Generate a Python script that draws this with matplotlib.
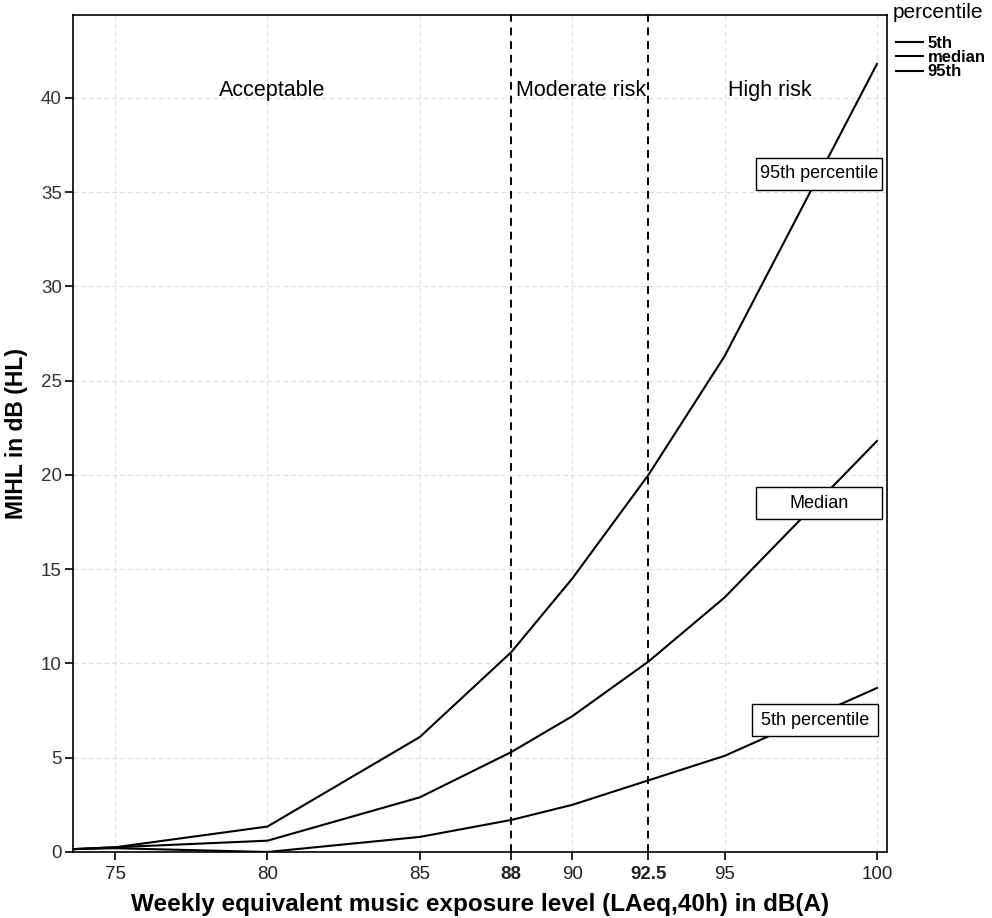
import matplotlib
matplotlib.use("Agg")
import matplotlib.pyplot as plt
from matplotlib.patches import Rectangle

plt.rcParams['font.family'] = ['Liberation Sans', 'DejaVu Sans']

# Data
x = [73.6, 75, 80, 85, 88, 90, 92.5, 95, 100]
p5 = [0.15, 0.2, 0.0, 0.8, 1.7, 2.5, 3.8, 5.1, 8.7]
median = [0.15, 0.25, 0.6, 2.9, 5.3, 7.2, 10.1, 13.5, 21.8]
p95 = [0.15, 0.25, 1.35, 6.1, 10.6, 14.5, 20.0, 26.3, 41.8]

xticks = [75, 80, 85, 88, 90, 92.5, 95, 100]
xtick_labels = ['75', '80', '85', '88', '90', '92.5', '95', '100']
bold_ticks = ['88', '92.5']
yticks = [0, 5, 10, 15, 20, 25, 30, 35, 40]
grid_x = [75, 80, 85, 90, 95, 100]
thresholds = [88, 92.5]

regions = ['Acceptable', 'Moderate risk', 'High risk']
region_x = [80.15, 90.28, 96.5]
region_y = 40.4

curve_labels = ['5th percentile', 'Median', '95th percentile']
curve_label_x = [97.97, 98.1, 98.1]
curve_label_y = [6.98, 18.5, 35.97]

W, H = 992, 918
fig = plt.figure(figsize=(W / 100, H / 100), dpi=100)
ax = fig.add_axes([73 / W, 1 - 852 / H, (887 - 73) / W, (852 - 15) / H])

for gx in grid_x:
    ax.axvline(gx, color='#dcdcdc', lw=0.8, ls=(0, (4, 3)), zorder=0)
for gy in yticks[1:]:
    ax.axhline(gy, color='#dcdcdc', lw=0.8, ls=(0, (4, 3)), zorder=0)

h5, = ax.plot(x, p5, color='black', lw=1.5, label='5th')
hm, = ax.plot(x, median, color='black', lw=1.5, label='median')
h95, = ax.plot(x, p95, color='black', lw=1.5, label='95th')

for t in thresholds:
    ax.axvline(t, color='black', lw=1.4, ls=(0, (4, 3)), zorder=3)

for name, rx in zip(regions, region_x):
    ax.text(rx, region_y, name, ha='center', va='center', fontsize=15.5)

box_w, box_h = 4.13, 1.70
for name, lx, ly in zip(curve_labels, curve_label_x, curve_label_y):
    ax.add_patch(Rectangle((lx - box_w / 2, ly - box_h / 2), box_w, box_h,
                           fc='white', ec='black', lw=1.0, zorder=5))
    ax.text(lx, ly, name, ha='center', va='center', fontsize=13, zorder=6)

ax.set_xlim(73.62, 100.33)
ax.set_ylim(0, 44.4)
ax.set_xticks(xticks)
ax.set_xticklabels(xtick_labels)
for lab in ax.get_xticklabels():
    if lab.get_text() in bold_ticks:
        lab.set_fontweight('bold')
ax.set_yticks(yticks)
ax.tick_params(axis='both', direction='out', length=6, width=1.2, labelsize=13.5, colors='black')
ax.tick_params(axis='y', labelcolor='#333333', pad=2)
ax.tick_params(axis='x', labelcolor='#222222', pad=4)
for s in ax.spines.values():
    s.set_linewidth(1.2)

ax.set_xlabel('Weekly equivalent music exposure level (LAeq,40h) in dB(A)',
              fontsize=17.5, fontweight='bold', labelpad=7)
ax.set_ylabel('MIHL in dB (HL)', fontsize=16.5, fontweight='bold', labelpad=9)

fig.text(893 / W, 1 - 13 / H, 'percentile', ha='left', va='center', fontsize=15)
leg = fig.legend(handles=[h5, hm, h95], loc='upper left',
                 bbox_to_anchor=(896 / W, 1 - 36 / H), bbox_transform=fig.transFigure,
                 frameon=False, fontsize=12, handlelength=1.6, handletextpad=0.3,
                 labelspacing=-0.05, borderaxespad=0, borderpad=0)
for t in leg.get_texts():
    t.set_fontweight('bold')

fig.savefig('out.png', dpi=100, facecolor='white')
